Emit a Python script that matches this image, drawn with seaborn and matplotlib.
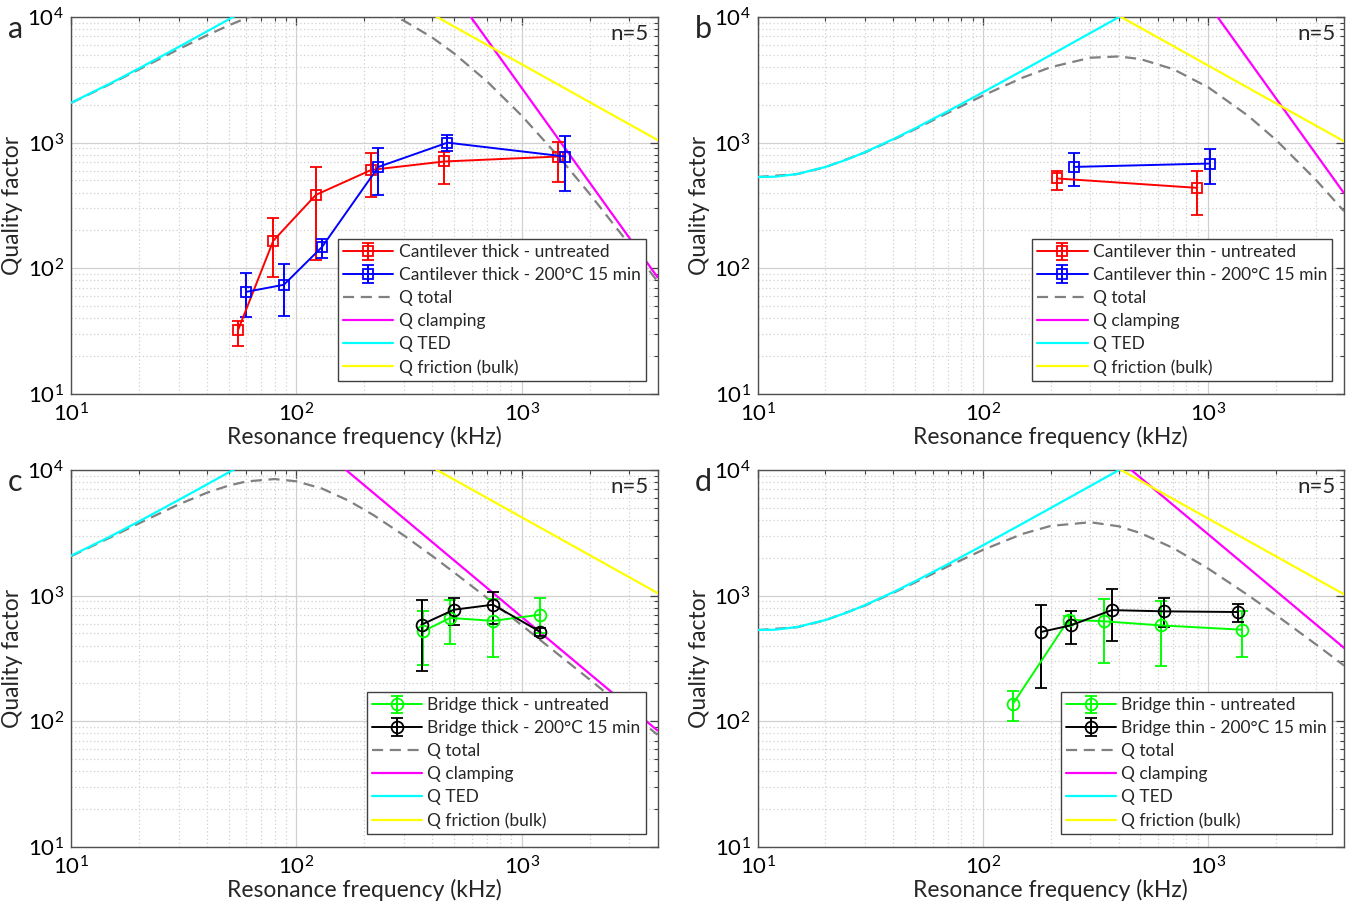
import numpy as np
import matplotlib
matplotlib.use("Agg")
import matplotlib.pyplot as plt
import seaborn as sns

# ---- measured data (kHz, quality factor) ----
# cantilever thick
a_red_f = [55, 79, 122, 215, 452, 1440]
a_red_q = [32, 166, 384, 607, 708, 775]
a_red_lo = [24, 86, 117, 368, 468, 488]
a_red_hi = [38, 251, 641, 833, 850, 1015]
a_blue_f = [60, 88, 130, 231, 468, 1560]
a_blue_q = [65, 74, 148, 641, 1000, 775]
a_blue_lo = [41, 42, 120, 382, 861, 413]
a_blue_hi = [91, 108, 171, 903, 1140, 1130]

# cantilever thin
b_red_f = [213, 888]
b_red_q = [519, 437]
b_red_lo = [419, 268]
b_red_hi = [595, 595]
b_blue_f = [253, 1016]
b_blue_q = [641, 682]
b_blue_lo = [453, 473]
b_blue_hi = [820, 883]

# bridge thick
c_green_f = [365, 480, 745, 1210]
c_green_q = [520, 665, 630, 706]
c_green_lo = [282, 415, 323, 507]
c_green_hi = [760, 930, 940, 960]
c_black_f = [359, 500, 745, 1210]
c_black_q = [588, 773, 847, 514]
c_black_lo = [250, 588, 595, 474]
c_black_hi = [918, 960, 1060, 553]

# bridge thin
d_green_f = [136, 240, 345, 614, 1406]
d_green_q = [138, 644, 625, 580, 536]
d_green_lo = [100, 600, 291, 274, 323]
d_green_hi = [173, 684, 942, 901, 760]
d_black_f = [181, 245, 373, 638, 1348]
d_black_q = [514, 580, 767, 750, 741]
d_black_lo = [184, 412, 438, 564, 617]
d_black_hi = [848, 760, 1137, 960, 859]

# ---- model curves ----
thick_ted_f = [10, 15, 20, 30, 40, 60]
thick_ted_q = [2075, 2969, 3892, 5767, 7656, 11449]
thin_ted_f = [10, 12, 15, 20, 25, 30, 40, 50, 70, 100, 150, 200, 300, 450]
thin_ted_q = [533, 536, 563, 640, 735, 841, 1066, 1300, 1781, 2514, 3748, 4986, 7467, 11193]

fric_f = [300, 4000]
thick_fric_q = [14000, 1050]
thin_fric_q = [13667, 1025]

a_clamp_f = [400, 4000]
a_clamp_q = [26870, 85]
b_clamp_f = [800, 4000]
b_clamp_q = [22127, 396]
c_clamp_f = [120, 4000]
c_clamp_q = [16271, 84.5]
d_clamp_f = [300, 4000]
d_clamp_q = [18678, 384]

thick_tot_f = [10, 15, 20, 30, 40, 50, 60, 80, 100, 130, 170, 220, 300, 400,
               500, 700, 1000, 1500, 2000, 3000, 4000]
a_tot_q = [2065, 2938, 3821, 5537, 7130, 8561, 9808, 11724, 12909, 13589, 13201,
           11819, 9340, 6869, 5140, 3078, 1636, 728, 391, 155, 78.6]
c_tot_q = [2058, 2915, 3761, 5313, 6581, 7511, 8106, 8468, 8126, 7110, 5714,
           4370, 3013, 2073, 1533, 961, 581, 325, 215, 119, 78.2]
thin_tot_f = [10, 15, 20, 30, 40, 50, 70, 100, 150, 200, 300, 400, 500, 700,
              1000, 1500, 2000, 3000, 4000]
b_tot_q = [533, 562, 638, 836, 1055, 1280, 1728, 2368, 3289, 3988, 4740, 4853,
           4623, 3838, 2754, 1639, 1048, 506, 285]
d_tot_q = [532, 561, 637, 834, 1052, 1274, 1711, 2313, 3102, 3591, 3837, 3565,
           3149, 2387, 1640, 1009, 700, 410, 278]


def draw_series(ax, f, q, lo, hi, color, marker, ms, label):
    q = np.array(q, dtype=float)
    yerr = [q - np.array(lo), np.array(hi) - q]
    return ax.errorbar(f, q, yerr=yerr, color=color, marker=marker, ms=ms,
                       mfc='none', mec=color, mew=1.3, lw=1.4, capsize=4.5,
                       elinewidth=1.4, capthick=1.4, label=label, zorder=5)


def draw_model(ax, f, q, color, label, ls='-'):
    sns.lineplot(x=f, y=q, ax=ax, color=color, lw=1.6, linestyle=ls,
                 sort=False, estimator=None, label=label, legend=False, zorder=3)
    return ax.lines[-1]


sns.set_theme(style="white")
plt.rcParams['font.family'] = ['Lato', 'DejaVu Sans']
plt.rcParams['mathtext.default'] = 'regular'

fig, axes = plt.subplots(2, 2, figsize=(13.55, 9.08), dpi=100)
fig.subplots_adjust(left=0.0524, right=0.9919, bottom=0.0672, top=0.9813,
                    wspace=0.1705, hspace=0.2016)

panels = [
    dict(ax=axes[0, 0], letter='a', kind='Cantilever thick', c1='#ff0000', c2='#0000ff', mk='s', ms=6.5,
         s1=(a_red_f, a_red_q, a_red_lo, a_red_hi), s2=(a_blue_f, a_blue_q, a_blue_lo, a_blue_hi),
         tot=(thick_tot_f, a_tot_q), clamp=(a_clamp_f, a_clamp_q),
         ted=(thick_ted_f, thick_ted_q), fric=(fric_f, thick_fric_q)),
    dict(ax=axes[0, 1], letter='b', kind='Cantilever thin', c1='#ff0000', c2='#0000ff', mk='s', ms=6.5,
         s1=(b_red_f, b_red_q, b_red_lo, b_red_hi), s2=(b_blue_f, b_blue_q, b_blue_lo, b_blue_hi),
         tot=(thin_tot_f, b_tot_q), clamp=(b_clamp_f, b_clamp_q),
         ted=(thin_ted_f, thin_ted_q), fric=(fric_f, thin_fric_q)),
    dict(ax=axes[1, 0], letter='c', kind='Bridge thick', c1='#00ff00', c2='#000000', mk='o', ms=8.5,
         s1=(c_green_f, c_green_q, c_green_lo, c_green_hi), s2=(c_black_f, c_black_q, c_black_lo, c_black_hi),
         tot=(thick_tot_f, c_tot_q), clamp=(c_clamp_f, c_clamp_q),
         ted=(thick_ted_f, thick_ted_q), fric=(fric_f, thick_fric_q)),
    dict(ax=axes[1, 1], letter='d', kind='Bridge thin', c1='#00ff00', c2='#000000', mk='o', ms=8.5,
         s1=(d_green_f, d_green_q, d_green_lo, d_green_hi), s2=(d_black_f, d_black_q, d_black_lo, d_black_hi),
         tot=(thin_tot_f, d_tot_q), clamp=(d_clamp_f, d_clamp_q),
         ted=(thin_ted_f, thin_ted_q), fric=(fric_f, thin_fric_q)),
]

for p in panels:
    ax = p['ax']
    ax.set_xscale('log')
    ax.set_yscale('log')

    h_tot = draw_model(ax, *p['tot'], '#808080', 'Q total', ls=(0, (5, 3)))
    h_cl = draw_model(ax, *p['clamp'], '#ff00ff', 'Q clamping')
    h_ted = draw_model(ax, *p['ted'], '#00ffff', 'Q TED')
    h_fr = draw_model(ax, *p['fric'], '#ffff00', 'Q friction (bulk)')

    e1 = draw_series(ax, *p['s1'], p['c1'], p['mk'], p['ms'], p['kind'] + ' - untreated')
    e2 = draw_series(ax, *p['s2'], p['c2'], p['mk'], p['ms'], p['kind'] + ' - 200°C 15 min')

    ax.set_xlim(10, 4000)
    ax.set_ylim(10, 1e4)
    ax.grid(which='major', color='#d0d0d0', lw=0.9, ls='-')
    ax.grid(which='minor', color='#d0d0d0', lw=0.9, ls=(0, (1, 2)))
    ax.set_axisbelow(True)
    ax.tick_params(which='both', direction='in', top=True, right=True,
                   colors='#404040', labelcolor='black', labelsize=16)
    ax.tick_params(axis='y', pad=5)
    ax.tick_params(axis='x', pad=6)
    ax.tick_params(which='major', length=6, width=0.9)
    ax.tick_params(which='minor', length=3, width=0.8)
    for sp in ax.spines.values():
        sp.set_color('#505050')
        sp.set_linewidth(1.0)

    ax.set_xlabel('Resonance frequency (kHz)', fontsize=16.5, labelpad=0)
    ax.set_ylabel('Quality factor', fontsize=16.5, labelpad=3)
    ax.text(0.985, 0.955, 'n=5', transform=ax.transAxes, ha='right', va='center', fontsize=16)

    leg = ax.legend([e1, e2, h_tot, h_cl, h_ted, h_fr],
                    [e1.get_label(), e2.get_label(), 'Q total', 'Q clamping', 'Q TED', 'Q friction (bulk)'],
                    loc='lower right', bbox_to_anchor=(0.98, 0.035), fontsize=12.5,
                    frameon=True, fancybox=False, framealpha=1, edgecolor='#404040',
                    handlelength=2.9, handletextpad=0.3, labelspacing=0.4,
                    borderpad=0.3, borderaxespad=0)
    leg.get_frame().set_linewidth(1.0)

    bb = ax.get_position()
    fig.text(8 / 1355 + (bb.x0 - 0.0524), bb.y1 - 12 / 908, p['letter'],
             fontsize=22, ha='left', va='center')

fig.savefig('out.png', dpi=100)
